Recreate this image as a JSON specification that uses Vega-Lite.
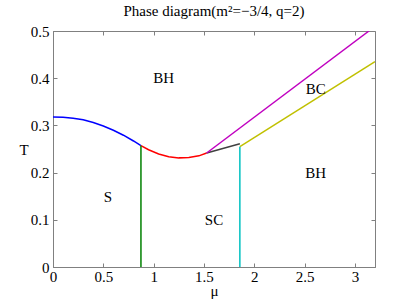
{
  "$schema": "https://vega.github.io/schema/vega-lite/v6.json",
  "width": 322,
  "height": 236,
  "autosize": {"type": "none"},
  "padding": {"left": 53, "top": 31, "right": 40, "bottom": 34},
  "background": "white",
  "title": {"text": "Phase diagram(m²=−3/4, q=2)", "font": "Liberation Serif", "fontSize": 15, "fontWeight": "normal", "color": "black", "offset": 5},
  "config": {
    "view": {"stroke": "#808080", "strokeWidth": 1},
    "axis": {"grid": false, "labelFont": "Liberation Serif", "labelFontSize": 15, "labelColor": "black", "titleFont": "Liberation Serif", "titleFontSize": 15, "titleFontWeight": "normal", "titleColor": "black", "domainColor": "#808080", "tickColor": "#808080"}
  },
  "datasets": {
    "curves": [
      {"series": "blue", "i": 0, "mu": 0.0, "T": 0.318},
      {"series": "blue", "i": 1, "mu": 0.1, "T": 0.3172},
      {"series": "blue", "i": 2, "mu": 0.2, "T": 0.3152},
      {"series": "blue", "i": 3, "mu": 0.3, "T": 0.3118},
      {"series": "blue", "i": 4, "mu": 0.4, "T": 0.3062},
      {"series": "blue", "i": 5, "mu": 0.5, "T": 0.2988},
      {"series": "blue", "i": 6, "mu": 0.6, "T": 0.2898},
      {"series": "blue", "i": 7, "mu": 0.7, "T": 0.2792},
      {"series": "blue", "i": 8, "mu": 0.8, "T": 0.2670},
      {"series": "blue", "i": 9, "mu": 0.874, "T": 0.257},
      {"series": "red", "i": 0, "mu": 0.874, "T": 0.257},
      {"series": "red", "i": 1, "mu": 0.95, "T": 0.2485},
      {"series": "red", "i": 2, "mu": 1.05, "T": 0.2395},
      {"series": "red", "i": 3, "mu": 1.15, "T": 0.2338},
      {"series": "red", "i": 4, "mu": 1.25, "T": 0.2312},
      {"series": "red", "i": 5, "mu": 1.35, "T": 0.2318},
      {"series": "red", "i": 6, "mu": 1.45, "T": 0.2355},
      {"series": "red", "i": 7, "mu": 1.527, "T": 0.2415},
      {"series": "black", "i": 0, "mu": 1.527, "T": 0.2415},
      {"series": "black", "i": 1, "mu": 1.857, "T": 0.261},
      {"series": "magenta", "i": 0, "mu": 1.527, "T": 0.2415},
      {"series": "magenta", "i": 1, "mu": 3.14, "T": 0.5},
      {"series": "yellow", "i": 0, "mu": 1.857, "T": 0.255},
      {"series": "yellow", "i": 1, "mu": 3.2, "T": 0.435},
      {"series": "green", "i": 0, "mu": 0.874, "T": 0.0},
      {"series": "green", "i": 1, "mu": 0.874, "T": 0.257},
      {"series": "cyan", "i": 0, "mu": 1.857, "T": 0.0},
      {"series": "cyan", "i": 1, "mu": 1.857, "T": 0.255}
    ],
    "labels": [
      {"label": "BH", "mu": 1.1, "T": 0.40},
      {"label": "BC", "mu": 2.61, "T": 0.378},
      {"label": "BH", "mu": 2.61, "T": 0.199},
      {"label": "S", "mu": 0.546, "T": 0.148},
      {"label": "SC", "mu": 1.6, "T": 0.10}
    ]
  },
  "resolve": {"axis": {"x": "independent", "y": "independent"}},
  "layer": [
    {
      "data": {"name": "curves"},
      "mark": {"type": "line", "strokeWidth": 1.5, "clip": true},
      "encoding": {
        "x": {"field": "mu", "type": "quantitative", "scale": {"domain": [0, 3.2], "nice": false, "zero": false},
              "axis": {"orient": "bottom", "title": "μ", "values": [0, 0.5, 1, 1.5, 2, 2.5, 3], "format": "~g", "tickSize": -4, "labelPadding": 6, "titlePadding": -1, "labelFlush": false, "labelFont": "Liberation Serif", "labelFontSize": 15, "titleFont": "Liberation Serif"}},
        "y": {"field": "T", "type": "quantitative", "scale": {"domain": [0, 0.5], "nice": false, "zero": false},
              "axis": {"orient": "left", "title": "T", "titleAngle": 0, "titleAlign": "right", "titleBaseline": "middle", "titlePadding": 2, "values": [0, 0.1, 0.2, 0.3, 0.4, 0.5], "format": "~g", "tickSize": -4, "labelPadding": 8, "labelFlush": false, "labelFont": "Liberation Serif", "labelFontSize": 15, "titleFont": "Liberation Serif"}},
        "color": {"field": "series", "type": "nominal", "legend": null,
                  "scale": {"domain": ["blue", "red", "black", "magenta", "yellow", "green", "cyan"], "range": ["#0000ff", "#ff0000", "#404040", "#c000c0", "#c0c000", "#008000", "#00c0c0"]}},
        "order": {"field": "i", "type": "quantitative"}
      }
    },
    {
      "data": {"name": "labels"},
      "mark": {"type": "text", "font": "Liberation Serif", "fontSize": 15, "color": "black", "align": "center", "baseline": "middle"},
      "encoding": {
        "x": {"field": "mu", "type": "quantitative", "scale": {"domain": [0, 3.2], "nice": false, "zero": false},
              "axis": {"orient": "top", "title": null, "values": [0, 0.5, 1, 1.5, 2, 2.5, 3], "labels": false, "tickSize": -4, "domain": false}},
        "y": {"field": "T", "type": "quantitative", "scale": {"domain": [0, 0.5], "nice": false, "zero": false},
              "axis": {"orient": "right", "title": null, "values": [0, 0.1, 0.2, 0.3, 0.4, 0.5], "labels": false, "tickSize": -4, "domain": false}},
        "text": {"field": "label", "type": "nominal"}
      }
    }
  ]
}
